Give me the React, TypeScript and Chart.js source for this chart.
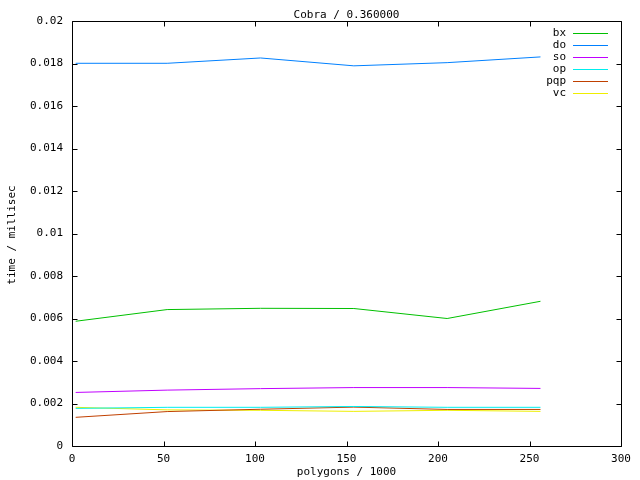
import React, { useEffect, useRef } from "react";
import { Chart, registerables } from "chart.js";

Chart.register(...registerables);

// ---- data ----
const xValues = [2, 52, 103, 154, 205, 256];
const seriesNames = ["bx", "do", "so", "op", "pqp", "vc"];
const bxValues = [0.00587, 0.00642, 0.00648, 0.00647, 0.006, 0.00681];
const doValues = [0.01801, 0.01801, 0.01826, 0.01789, 0.01804, 0.01831];
const soValues = [0.00252, 0.00263, 0.0027, 0.00275, 0.00275, 0.00271];
const opValues = [0.00177, 0.00182, 0.00182, 0.00186, 0.00182, 0.00182];
const pqpValues = [0.00135, 0.00162, 0.00173, 0.00183, 0.00172, 0.00172];
const vcValues = [0.00182, 0.0017, 0.00168, 0.00163, 0.00168, 0.00163];
const seriesColors = ["#00c000", "#0080ff", "#c000ff", "#00eeee", "#c04000", "#eeee00"];
const xTicks = [0, 50, 100, 150, 200, 250, 300];
const yTicks = [0, 0.002, 0.004, 0.006, 0.008, 0.01, 0.012, 0.014, 0.016, 0.018, 0.02];
const titleText = "Cobra / 0.360000";
const xLabel = "polygons / 1000";
const yLabel = "time / millisec";

const FONT_FAMILY = "'DejaVu Sans Mono', monospace";
const FONT_SIZE = 11;

const allSeries = [bxValues, doValues, soValues, opValues, pqpValues, vcValues];

const gnuplotPlugin = {
  id: "gnuplotFrame",
  afterDraw(chart: any) {
    const ctx = chart.ctx as CanvasRenderingContext2D;
    const { left, right, top, bottom } = chart.chartArea;
    const xs = chart.scales.x;
    const ys = chart.scales.y;
    const tick = 5;
    ctx.save();
    ctx.strokeStyle = "#000";
    ctx.lineWidth = 1;
    ctx.beginPath();
    const L = Math.round(left) + 0.5;
    const R = Math.round(right) + 0.5;
    const T = Math.round(top) + 0.5;
    const B = Math.round(bottom) + 0.5;
    ctx.rect(L, T, R - L, B - T);
    xTicks.forEach((v) => {
      const px = Math.round(xs.getPixelForValue(v)) + 0.5;
      ctx.moveTo(px, B);
      ctx.lineTo(px, B - tick);
      ctx.moveTo(px, T);
      ctx.lineTo(px, T + tick);
    });
    yTicks.forEach((v) => {
      const py = Math.round(ys.getPixelForValue(v)) + 0.5;
      ctx.moveTo(L, py);
      ctx.lineTo(L + tick, py);
      ctx.moveTo(R, py);
      ctx.lineTo(R - tick, py);
    });
    ctx.stroke();

    ctx.fillStyle = "#000";
    ctx.font = `${FONT_SIZE}px ${FONT_FAMILY}`;
    ctx.textAlign = "center";
    ctx.textBaseline = "middle";
    ctx.fillText(titleText, (left + right) / 2, 15);
    ctx.fillText(xLabel, (left + right) / 2, 472);
    ctx.save();
    ctx.translate(12, 235);
    ctx.rotate(-Math.PI / 2);
    ctx.fillText(yLabel, 0, 0);
    ctx.restore();

    // legend
    seriesNames.forEach((name, i) => {
      const y = 33 + i * 12;
      ctx.textAlign = "right";
      ctx.textBaseline = "middle";
      ctx.fillStyle = "#000";
      ctx.fillText(name, 566, y);
      ctx.strokeStyle = seriesColors[i];
      ctx.lineWidth = 1;
      ctx.beginPath();
      ctx.moveTo(573, Math.round(y) + 0.5);
      ctx.lineTo(608, Math.round(y) + 0.5);
      ctx.stroke();
    });
    ctx.restore();
  },
};

export default function App() {
  const ref = useRef<HTMLCanvasElement | null>(null);

  useEffect(() => {
    document.body.style.margin = "0";
    if (!ref.current) return;
    const chart = new Chart(ref.current, {
      type: "line",
      data: {
        datasets: seriesNames.map((name, i) => ({
          label: name,
          data: xValues.map((x, j) => ({ x, y: allSeries[i][j] })),
          borderColor: seriesColors[i],
          backgroundColor: seriesColors[i],
          borderWidth: 1,
          pointRadius: 0,
          tension: 0,
          fill: false,
        })),
      },
      options: {
        animation: false,
        responsive: false,
        devicePixelRatio: 1,
        layout: { padding: { top: 21, right: 19, left: 0, bottom: 0 } },
        plugins: {
          legend: { display: false },
          title: { display: false },
          tooltip: { enabled: false },
        },
        scales: {
          x: {
            type: "linear",
            min: 0,
            max: 300,
            afterBuildTicks: (scale: any) => {
              scale.ticks = xTicks.map((v) => ({ value: v }));
            },
            afterFit: (scale: any) => {
              scale.height = 34;
            },
            grid: { display: false, drawTicks: false },
            border: { display: false },
            ticks: {
              color: "#000",
              font: { family: FONT_FAMILY, size: FONT_SIZE },
              padding: 7,
              maxRotation: 0,
              autoSkip: false,
              callback: (v: any) => String(v),
            },
          },
          y: {
            type: "linear",
            min: 0,
            max: 0.02,
            afterBuildTicks: (scale: any) => {
              scale.ticks = yTicks.map((v) => ({ value: v }));
            },
            afterFit: (scale: any) => {
              scale.width = 72;
            },
            grid: { display: false, drawTicks: false },
            border: { display: false },
            ticks: {
              color: "#000",
              font: { family: FONT_FAMILY, size: FONT_SIZE },
              padding: 9,
              autoSkip: false,
              callback: (v: any) => String(Number(Number(v).toFixed(4))),
            },
          },
        },
      },
      plugins: [gnuplotPlugin],
    } as any);
    return () => chart.destroy();
  }, []);

  return (
    <div style={{ position: "absolute", left: 0, top: 0, width: 640, height: 480, background: "#fff" }}>
      <canvas ref={ref} width={640} height={480} />
    </div>
  );
}
